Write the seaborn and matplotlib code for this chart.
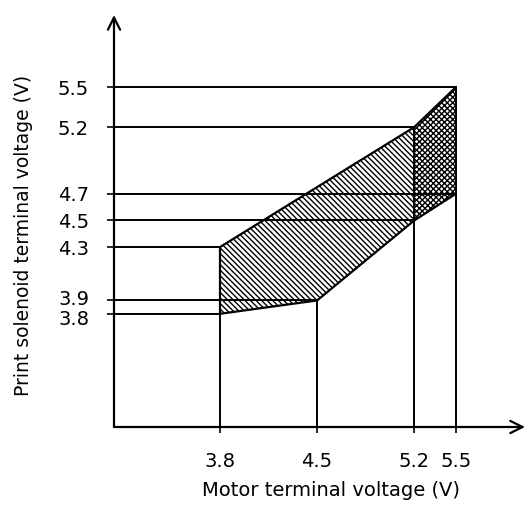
import numpy as np
import pandas as pd
import seaborn as sns
import matplotlib.pyplot as plt
import matplotlib.transforms as mtrans

# motor terminal voltage (x) vs print solenoid terminal voltage (y)
motor_ticks = [3.8, 4.5, 5.2, 5.5]
solenoid_ticks = [3.8, 3.9, 4.3, 4.5, 4.7, 5.2, 5.5]

# lower limit of the operating range
lower_x = [3.8, 4.5, 5.2, 5.5]
lower_y = [3.8, 3.9, 4.5, 4.7]
# upper limit of the operating range
upper_x = [3.8, 5.2, 5.5]
upper_y = [4.3, 5.2, 5.5]

# guide lines: horizontal ones run from the y axis to x = h_end,
# vertical ones run from the x axis to y = v_end
h_levels = [3.8, 3.9, 4.3, 4.5, 4.7, 5.2, 5.5]
h_end = [3.8, 4.5, 3.8, 5.2, 5.5, 5.2, 5.5]
v_levels = [3.8, 4.5, 5.2, 5.5]
v_end = [4.3, 3.9, 5.2, 5.5]

sns.set_theme(style="white")
plt.rcParams['font.family'] = ['DejaVu Sans']
plt.rcParams['hatch.linewidth'] = 1.0
plt.rcParams['text.color'] = 'black'
plt.rcParams['xtick.labelcolor'] = 'black'
plt.rcParams['ytick.labelcolor'] = 'black'

fig = plt.figure(figsize=(5.29, 5.07), dpi=100)
ax = fig.add_axes([114 / 529, 80 / 507, 411 / 529, 412 / 507])
x0, x1 = 3.037, 5.998
y0, y1 = 2.951, 6.041
ax.set_xlim(x0, x1)
ax.set_ylim(y0, y1)

# hatched areas
main_x = [3.8, 4.5, 5.2, 5.2, 3.8]
main_y = [3.8, 3.9, 4.5, 5.2, 4.3]
ax.fill(main_x, main_y, facecolor='none', edgecolor='black', hatch='\\' * 6, lw=0)
right_x = [5.2, 5.5, 5.5, 5.2]
right_y = [4.5, 4.7, 5.5, 5.2]
ax.fill(right_x, right_y, facecolor='none', edgecolor='black', hatch='x' * 6, lw=0)

# boundaries
lines = pd.DataFrame({'x': lower_x, 'y': lower_y})
sns.lineplot(data=lines, x='x', y='y', sort=False, color='black', lw=1.6, ax=ax)
sns.lineplot(x=upper_x, y=upper_y, sort=False, color='black', lw=1.6, ax=ax)
ax.plot([3.8, 3.8], [3.8, 4.3], color='black', lw=1.6)

for lvl, e in zip(h_levels, h_end):
    ax.plot([x0, e], [lvl, lvl], color='black', lw=1.4)
for lvl, e in zip(v_levels, v_end):
    ax.plot([lvl, lvl], [y0, e], color='black', lw=1.4)

# axes with arrows
for s in ax.spines.values():
    s.set_visible(False)
ax.annotate('', xy=(x0, y1), xytext=(x0, y0), annotation_clip=False,
            arrowprops=dict(arrowstyle='->', lw=1.6, color='black', mutation_scale=22,
                            shrinkA=0, shrinkB=0))
ax.annotate('', xy=(x1, y0), xytext=(x0, y0), annotation_clip=False,
            arrowprops=dict(arrowstyle='->', lw=1.6, color='black', mutation_scale=22,
                            shrinkA=0, shrinkB=0))

ax.set_xticks(motor_ticks)
ax.set_xticklabels([f'{v:.1f}' for v in motor_ticks])
ax.set_yticks(solenoid_ticks)
ax.set_yticklabels([f'{v:.1f}' for v in solenoid_ticks])
ax.tick_params(axis='y', length=5, width=1.2, pad=13, labelsize=14, color='black',
               labelcolor='black', left=True)
ax.tick_params(axis='x', length=4, width=1.2, pad=14, labelsize=14, color='black',
               labelcolor='black', bottom=True)
ax.set_xlabel('')
ax.set_ylabel('')
ax.grid(False)

# the 3.8 / 3.9 labels sit close together, spread them a little
for lab in ax.get_yticklabels():
    if lab.get_text() == '3.8':
        lab.set_transform(lab.get_transform() + mtrans.ScaledTranslation(0, -3 / 72, fig.dpi_scale_trans))
    elif lab.get_text() == '3.9':
        lab.set_transform(lab.get_transform() + mtrans.ScaledTranslation(0, 2 / 72, fig.dpi_scale_trans))

fig.text(331 / 529, 1 - 490 / 507, 'Motor terminal voltage (V)', ha='center', va='center',
         fontsize=14, color='black')
fig.text(24 / 529, 1 - 235 / 507, 'Print solenoid terminal voltage (V)', ha='center', va='center',
         rotation=90, fontsize=13.5, color='black')

fig.savefig('out.png', dpi=100)
